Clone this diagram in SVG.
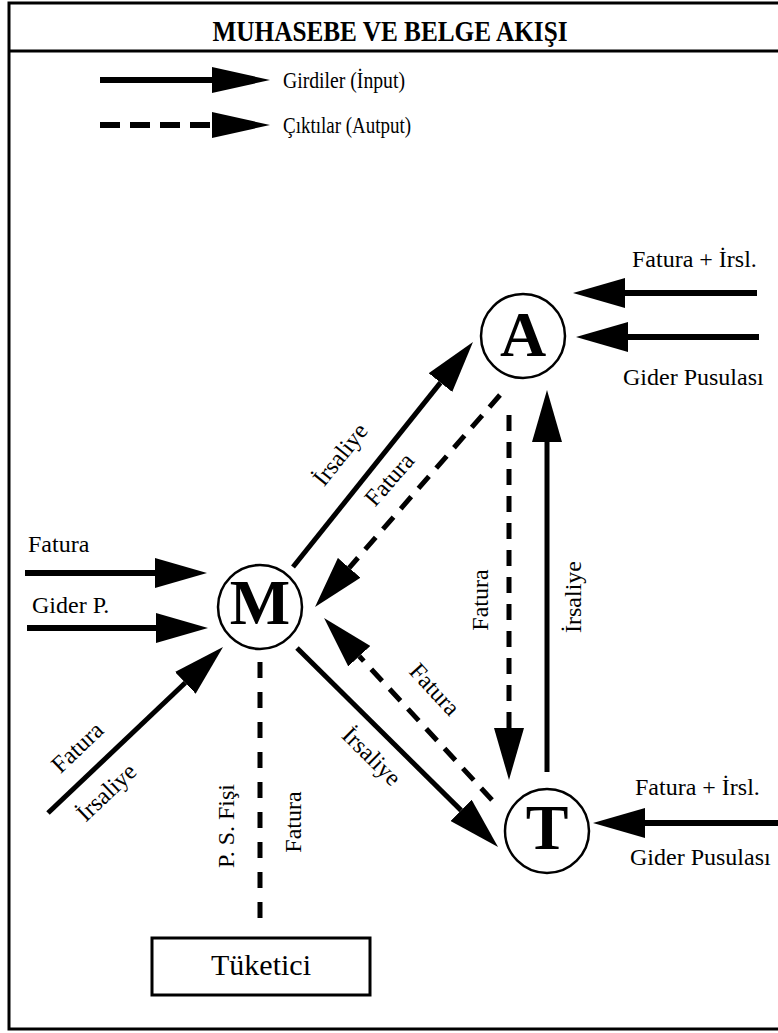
<svg xmlns="http://www.w3.org/2000/svg" width="778" height="1033" viewBox="0 0 778 1033" font-family="'Liberation Serif', 'Times New Roman', serif">
<defs>
<marker id="ah" markerUnits="userSpaceOnUse" markerWidth="52" markerHeight="30" refX="0" refY="15" orient="auto" viewBox="0 0 52 30"><path d="M0,0 L52,15 L0,30 z" fill="#000"/></marker>
<marker id="ahL" markerUnits="userSpaceOnUse" markerWidth="58" markerHeight="26" refX="0" refY="13" orient="auto" viewBox="0 0 58 26"><path d="M0,0 L58,13 L0,26 z" fill="#000"/></marker>
<style>
text{font-family:"Liberation Serif","Times New Roman",serif;fill:#000}
.lbl{font-size:24px}
.big{font-size:64px;font-weight:bold;text-anchor:middle}
.node{fill:#fff;stroke:#000;stroke-width:2.5}
.in{stroke:#000;stroke-width:6;fill:none;marker-end:url(#ah)}
.sol{stroke:#000;stroke-width:5;fill:none;marker-end:url(#ah)}
.das{stroke:#000;stroke-width:5;fill:none;stroke-dasharray:16 11;marker-end:url(#ah)}
</style>
</defs>
<rect width="778" height="1033" fill="#fff"/>
<g id="frame">
<rect x="9" y="3" width="790" height="1026" fill="none" stroke="#000" stroke-width="3"/>
<line x1="9" y1="51" x2="778" y2="51" stroke="#000" stroke-width="3"/>
<text x="390" y="41" font-size="29" font-weight="bold" text-anchor="middle" textLength="355" lengthAdjust="spacingAndGlyphs">MUHASEBE VE BELGE AKIŞI</text>
</g>
<g id="legend">
<line x1="100" y1="80" x2="212" y2="80" stroke="#000" stroke-width="6" marker-end="url(#ahL)"/>
<line x1="100" y1="125" x2="212" y2="125" stroke="#000" stroke-width="6" stroke-dasharray="20 10" marker-end="url(#ahL)"/>
<text x="283" y="88" font-size="24" textLength="122" lengthAdjust="spacingAndGlyphs">Girdiler (İnput)</text>
<text x="283" y="133" font-size="24" textLength="128" lengthAdjust="spacingAndGlyphs">Çıktılar (Autput)</text>
</g>
<g id="connectors">
<line class="in" x1="757" y1="293" x2="625" y2="293"/>
<line class="in" x1="759" y1="337" x2="628" y2="337"/>
<line class="in" x1="25" y1="573" x2="155" y2="573"/>
<line class="in" x1="27" y1="628" x2="156" y2="628"/>
<line class="in" x1="790" y1="823" x2="645" y2="823"/>
<line class="sol" x1="48" y1="813" x2="185.3" y2="682.8"/>
<line class="sol" x1="293" y1="567" x2="440.5" y2="382.6"/>
<line class="das" x1="500" y1="395" x2="349.2" y2="567.8"/>
<line class="das" x1="509" y1="415" x2="509" y2="728"/>
<line class="sol" x1="547" y1="772" x2="547" y2="442"/>
<line class="sol" x1="297" y1="648" x2="461.1" y2="810.4"/>
<line class="das" x1="492" y1="800" x2="359.3" y2="656.2"/>
<line x1="260" y1="662" x2="260" y2="918" stroke="#000" stroke-width="5" stroke-dasharray="16 14"/>
</g>
<g id="labels">
<text class="lbl" x="28" y="552">Fatura</text>
<text class="lbl" x="32" y="613">Gider P.</text>
<text class="lbl" x="632" y="267">Fatura + İrsl.</text>
<text class="lbl" x="623" y="385">Gider Pusulası</text>
<text class="lbl" x="635" y="795">Fatura + İrsl.</text>
<text class="lbl" x="630" y="865">Gider Pusulası</text>
<text class="lbl" text-anchor="middle" transform="translate(341,455) rotate(-51.3)" y="7">İrsaliye</text>
<text class="lbl" text-anchor="middle" transform="translate(390,480) rotate(-48.9)" y="7">Fatura</text>
<text class="lbl" text-anchor="middle" transform="translate(434,690) rotate(47.3)" y="7">Fatura</text>
<text class="lbl" text-anchor="middle" transform="translate(371,757) rotate(44.7)" y="7">İrsaliye</text>
<text class="lbl" text-anchor="middle" transform="translate(78,748) rotate(-43.5)" y="7">Fatura</text>
<text class="lbl" text-anchor="middle" transform="translate(107,793) rotate(-43.5)" y="7">İrsaliye</text>
<text class="lbl" text-anchor="middle" transform="translate(234,826) rotate(-90)">P. S. Fişi</text>
<text class="lbl" text-anchor="middle" transform="translate(301,822) rotate(-90)">Fatura</text>
<text class="lbl" text-anchor="middle" transform="translate(488,600) rotate(-90)">Fatura</text>
<text class="lbl" text-anchor="middle" transform="translate(581,597) rotate(-90)">İrsaliye</text>
</g>
<g id="node-A">
<circle class="node" cx="523" cy="336" r="42"/>
<text class="big" x="523" y="356">A</text>
</g>
<g id="node-M">
<circle class="node" cx="260" cy="607" r="42"/>
<text class="big" x="260" y="624">M</text>
</g>
<g id="node-T">
<circle class="node" cx="547" cy="831" r="42"/>
<text class="big" x="547" y="849">T</text>
</g>
<g id="node-Tuketici">
<rect x="152" y="938" width="218" height="57" fill="#fff" stroke="#000" stroke-width="3"/>
<text x="261" y="975" font-size="30" text-anchor="middle">Tüketici</text>
</g>
</svg>
